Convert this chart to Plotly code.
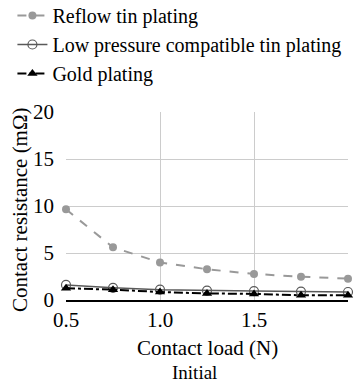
import plotly.graph_objects as go

load_n = [0.5, 0.75, 1.0, 1.25, 1.5, 1.75, 2.0]
reflow_tin = [9.65, 5.6, 4.0, 3.27, 2.77, 2.48, 2.27]
low_pressure_tin = [1.6, 1.3, 1.1, 1.0, 0.95, 0.9, 0.85]
gold = [1.25, 1.1, 0.85, 0.7, 0.65, 0.5, 0.5]
series_names = ["Reflow tin plating", "Low pressure compatible tin plating", "Gold plating"]
x_ticks = [0.5, 1.0, 1.5, 2.0]
y_ticks = [0, 5, 10, 15, 20]

FONT = "Liberation Serif"
FS = 21

fig = go.Figure()
fig.add_trace(go.Scatter(
    x=load_n, y=reflow_tin, name=series_names[0], mode="lines+markers",
    line=dict(color="#999999", width=2, dash="dash"),
    marker=dict(symbol="circle", size=8, color="#999999"),
    cliponaxis=False, legendgroup="a"))
fig.add_trace(go.Scatter(
    x=load_n, y=low_pressure_tin, name=series_names[1], mode="lines+markers",
    line=dict(color="#595959", width=1.5),
    marker=dict(symbol="circle-open", size=9, color="#595959", line=dict(width=1.2)),
    cliponaxis=False, legendgroup="b"))
fig.add_trace(go.Scatter(
    x=load_n, y=gold, name=series_names[2], mode="lines+markers",
    line=dict(color="#000000", width=2, dash="dashdot"),
    marker=dict(symbol="triangle-up", size=9, color="#000000"),
    cliponaxis=False, legendgroup="c"))

fig.update_layout(
    width=356, height=385,
    margin=dict(l=66, r=8, t=112, b=85, autoexpand=False),
    paper_bgcolor="white", plot_bgcolor="white",
    font=dict(family=FONT, size=FS, color="#000000"),
    showlegend=True,
    legend=dict(x=-0.19, y=1.617,
                xanchor="left", yanchor="top", font=dict(size=20, family=FONT),
                tracegroupgap=0, bgcolor="rgba(0,0,0,0)", itemwidth=30),
    xaxis=dict(range=[0.5, 2.0], tickvals=x_ticks, ticktext=[f"{v:.1f}" for v in x_ticks],
               showgrid=True, gridcolor="#CCCCCC", gridwidth=1,
               showline=True, linecolor="#000000", linewidth=1.5, mirror=False,
               zeroline=False, ticks="", automargin=False,
               tickfont=dict(size=FS, family=FONT)),
    yaxis=dict(range=[0, 20], tickvals=y_ticks,
               showgrid=True, gridcolor="#CCCCCC", gridwidth=1,
               showline=False, zeroline=False, ticks="", automargin=False,
               ticklabelstandoff=11, tickfont=dict(size=FS, family=FONT)),
)

fig.add_annotation(text="Contact load (N)", xref="paper", yref="paper", x=0.5, y=-0.255,
                   showarrow=False, font=dict(size=FS, family=FONT), xanchor="center", yanchor="middle")
fig.add_annotation(text="Contact resistance (mΩ)", xref="paper", yref="paper", x=-0.163, y=0.479,
                   textangle=-90, showarrow=False, font=dict(size=FS, family=FONT),
                   xanchor="center", yanchor="middle")
fig.add_annotation(text="Initial", xref="paper", yref="paper", x=0.454, y=-0.388,
                   showarrow=False, font=dict(size=19, family=FONT), xanchor="center", yanchor="middle")

fig.write_html("out.html", post_script="document.body.style.margin='0';",
               config={"displayModeBar": False})
